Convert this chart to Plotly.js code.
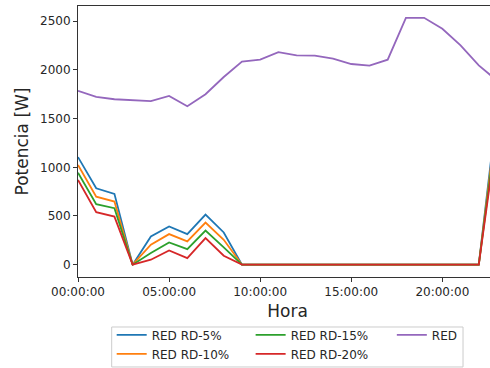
<!DOCTYPE html>
<html>
<head>
<meta charset="utf-8">
<script src="https://cdn.plot.ly/plotly-3.0.1.min.js"></script>
<style>
  html, body { margin: 0; padding: 0; overflow: hidden; background: #fff; }
  #chart { width: 507px; height: 368px; }
</style>
</head>
<body>
<div id="chart"></div>
<script>
// Hourly power profile (W) for one day
const hours = [
  "00:00:00", "01:00:00", "02:00:00", "03:00:00", "04:00:00", "05:00:00",
  "06:00:00", "07:00:00", "08:00:00", "09:00:00", "10:00:00", "11:00:00",
  "12:00:00", "13:00:00", "14:00:00", "15:00:00", "16:00:00", "17:00:00",
  "18:00:00", "19:00:00", "20:00:00", "21:00:00", "22:00:00", "23:00:00"
];

const redRd5 = [1105, 785, 727, 0, 290, 392, 314, 515, 331, 0, 0, 0,
                0, 0, 0, 0, 0, 0, 0, 0, 0, 0, 0, 1600];
const redRd10 = [1023, 699, 648, 0, 205, 314, 239, 433, 256, 0, 0, 0,
                 0, 0, 0, 0, 0, 0, 0, 0, 0, 0, 0, 1520];
const redRd15 = [945, 621, 580, 0, 120, 228, 160, 351, 177, 0, 0, 0,
                 0, 0, 0, 0, 0, 0, 0, 0, 0, 0, 0, 1440];
const redRd20 = [870, 539, 494, 0, 51, 146, 68, 273, 92, 0, 0, 0,
                 0, 0, 0, 0, 0, 0, 0, 0, 0, 0, 0, 1360];
const redBase = [1785, 1723, 1699, 1689, 1679, 1733, 1627, 1750, 1927, 2085, 2105, 2183,
                 2149, 2146, 2116, 2061, 2044, 2105, 2535, 2535, 2422, 2252, 2047, 1890];

const seriesNames = ["RED RD-5%", "RED RD-10%", "RED RD-15%", "RED RD-20%", "RED"];
const seriesColors = ["#1f77b4", "#ff7f0e", "#2ca02c", "#d62728", "#9467bd"];
// three legend columns: 5%,10% | 15%,20% | RED
const legendIds = ["legend", "legend", "legend2", "legend2", "legend3"];

const day = "2024-01-01 ";
const xs = hours.map(h => day + h);
const seriesValues = [redRd5, redRd10, redRd15, redRd20, redBase];

const traces = seriesValues.map((vals, i) => ({
  type: "scatter",
  mode: "lines",
  x: xs,
  y: vals,
  name: seriesNames[i],
  legend: legendIds[i],
  line: { color: seriesColors[i], width: 1.8 }
}));

const axisCommon = {
  showline: true,
  linecolor: "#333",
  linewidth: 1,
  mirror: true,
  showgrid: false,
  zeroline: false,
  ticks: "outside",
  ticklen: 4,
  tickwidth: 1,
  tickcolor: "#333",
  tickfont: { size: 12, color: "#262626" }
};

function legendColumn(x) {
  return {
    orientation: "v",
    x: x,
    xanchor: "left",
    y: -0.160,
    yanchor: "top",
    bgcolor: "rgba(0,0,0,0)",
    borderwidth: 0,
    font: { size: 12, color: "#262626" },
    traceorder: "normal"
  };
}

const layout = {
  width: 507,
  height: 368,
  margin: { l: 78, r: 10, t: 6, b: 91, autoexpand: false },
  paper_bgcolor: "#fff",
  plot_bgcolor: "#fff",
  font: { family: "DejaVu Sans", color: "#262626", size: 12 },
  xaxis: Object.assign({}, axisCommon, {
    type: "date",
    range: [xs[0], xs[xs.length - 1]],
    tick0: xs[0],
    dtick: 5 * 3600 * 1000,
    tickformat: "%H:%M:%S",
    title: { text: "Hora", font: { size: 17 }, standoff: 6 }
  }),
  yaxis: Object.assign({}, axisCommon, {
    range: [-126.5, 2656.5],
    tick0: 0,
    dtick: 500,
    title: { text: "Potencia [W]", font: { size: 17 }, standoff: 7 }
  }),
  legend: legendColumn(0.0804),
  legend2: legendColumn(0.412),
  legend3: legendColumn(0.749),
  // frame around the three legend columns
  shapes: [{
    type: "rect",
    xref: "paper", yref: "paper",
    x0: 0.0804, x1: 0.9189,
    y0: -0.332, y1: -0.1845,
    line: { color: "#cccccc", width: 1 },
    fillcolor: "#fff",
    layer: "above"
  }],
  showlegend: true
};

Plotly.newPlot("chart", traces, layout, { displayModeBar: false, staticPlot: true });
</script>
</body>
</html>
